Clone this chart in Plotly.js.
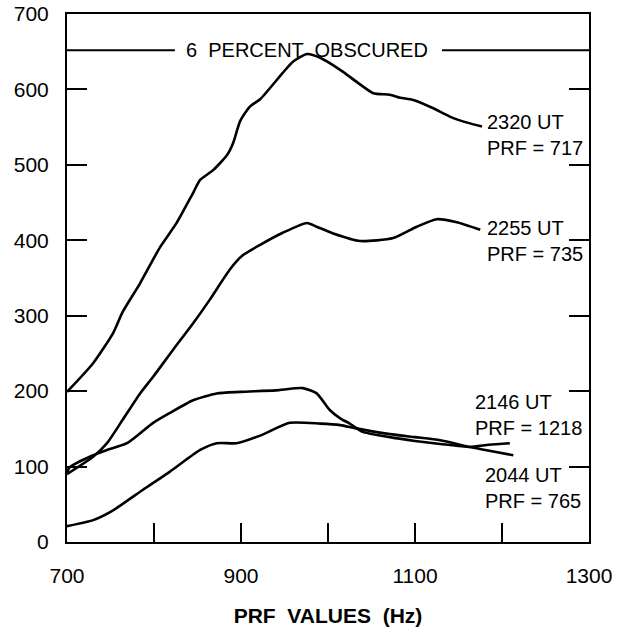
<!DOCTYPE html>
<html>
<head>
<meta charset="utf-8">
<script src="https://cdn.plot.ly/plotly-3.0.1.min.js"></script>
<style>
  html, body { margin: 0; padding: 0; background: #fff; }
  #chart { width: 634px; height: 636px; }
</style>
</head>
<body>
<div id="chart"></div>
<script>
// PRF sweep curves (x in Hz), one per observation time
const prf2320 = [700, 730, 753, 764, 784, 807, 826, 845, 853, 868, 884, 891, 899, 910, 922, 948, 960, 976, 991, 1014, 1033, 1052, 1071, 1083, 1098, 1121, 1140, 1160, 1177];
const val2320 = [199, 237, 277, 305, 343, 391, 423, 463, 480, 493, 513, 529, 558, 577, 587, 622, 637, 647, 642, 626, 610, 595, 593, 589, 586, 575, 564, 556, 551];

const prf2255 = [700, 730, 746, 764, 784, 799, 822, 845, 864, 887, 902, 922, 948, 976, 987, 1006, 1037, 1075, 1102, 1125, 1148, 1175];
const val2255 = [90, 113, 131, 162, 197, 219, 255, 290, 321, 361, 380, 394, 410, 423, 418, 409, 399, 403, 418, 428, 424, 414];

const prf2146 = [700, 703, 730, 746, 769, 799, 818, 845, 872, 899, 940, 971, 987, 1002, 1014, 1025, 1040, 1071, 1100, 1129, 1163, 1185, 1209];
const val2146 = [92, 99, 115, 122, 131, 158, 171, 188, 197, 199, 201, 204, 197, 175, 164, 157, 146, 139, 134, 130, 126, 129, 131];

const prf2044 = [700, 730, 753, 787, 818, 853, 872, 895, 922, 956, 991, 1014, 1031, 1071, 1100, 1129, 1163, 1190, 1213];
const val2044 = [21, 29, 42, 69, 93, 122, 131, 131, 141, 158, 157, 155, 151, 143, 139, 135, 126, 120, 115];

// Curve labels
const labelText = ['2320 UT<br>PRF = 717', '2255 UT<br>PRF = 735', '2146 UT<br>PRF = 1218', '2044 UT<br>PRF = 765'];
const labelX = [1180, 1180, 1167, 1178];
const labelY = [539, 399, 168, 72];

// Obscuration level, drawn as a line broken around its label
const obscuredLevel = 652;
const obscuredText = '6 \u00a0PERCENT \u00a0OBSCURED';
const obscuredLabelX = 976;
const obscuredGap = [824, 1131];

// Axis ticks
const xTicks = [700, 800, 900, 1000, 1100, 1200, 1300];
const xTickText = ['700', '', '900', '', '1100', '', '1300'];
const yTicks = [0, 100, 200, 300, 400, 500, 600, 700];

const FONT = 'Liberation Sans, Arial, Helvetica, sans-serif';

const lineStyle = { color: '#000', width: 2.6, shape: 'spline', smoothing: 0.6 };
const traces = [
  [prf2320, val2320, '2320 UT'],
  [prf2255, val2255, '2255 UT'],
  [prf2146, val2146, '2146 UT'],
  [prf2044, val2044, '2044 UT']
].map(([x, y, name]) => ({
  x, y, name, type: 'scatter', mode: 'lines', line: lineStyle, hoverinfo: 'x+y+name'
}));

const annotations = labelText.map((t, i) => ({
  x: labelX[i], y: labelY[i], xref: 'x', yref: 'y',
  text: t, showarrow: false, xanchor: 'left', yanchor: 'middle', align: 'left',
  font: { family: FONT, size: 20, color: '#000' }
}));
annotations.push({
  x: obscuredLabelX, y: obscuredLevel, xref: 'x', yref: 'y',
  text: obscuredText, showarrow: false, xanchor: 'center', yanchor: 'middle',
  font: { family: FONT, size: 20, color: '#000' }
});

const obscuredLine = (x0, x1) => ({
  type: 'line', xref: 'x', yref: 'y', x0, x1, y0: obscuredLevel, y1: obscuredLevel,
  line: { color: '#000', width: 2 }
});

const layout = {
  width: 634, height: 636,
  margin: { l: 67, r: 45, t: 14, b: 94 },
  paper_bgcolor: '#fff', plot_bgcolor: '#fff',
  showlegend: false,
  font: { family: FONT, color: '#000', size: 21 },
  xaxis: {
    range: [700, 1300], tickvals: xTicks, ticktext: xTickText,
    ticks: 'inside', ticklen: 19, tickwidth: 2, tickcolor: '#000',
    showline: true, linewidth: 2, linecolor: '#000', mirror: true,
    showgrid: false, zeroline: false, ticklabelstandoff: 14,
    tickfont: { family: FONT, size: 21 },
    title: { text: '<b>PRF \u00a0VALUES \u00a0(Hz)</b>', font: { family: FONT, size: 21 }, standoff: 22 }
  },
  yaxis: {
    range: [0, 700], tickvals: yTicks,
    ticks: 'inside', ticklen: 20, tickwidth: 2, tickcolor: '#000',
    showline: true, linewidth: 2, linecolor: '#000', mirror: 'ticks',
    showgrid: false, zeroline: false, ticklabelstandoff: 12,
    tickfont: { family: FONT, size: 21 }
  },
  shapes: [obscuredLine(700, obscuredGap[0]), obscuredLine(obscuredGap[1], 1300)],
  annotations
};

Plotly.newPlot('chart', traces, layout, { displayModeBar: false, staticPlot: true });
</script>
</body>
</html>
